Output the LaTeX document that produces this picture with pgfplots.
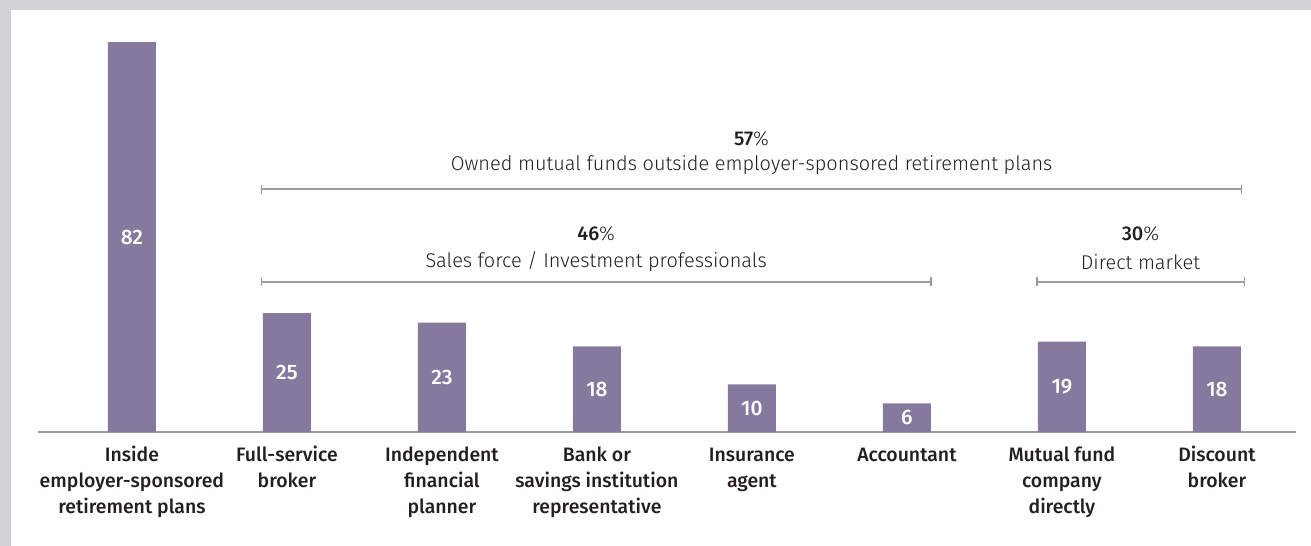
\documentclass[border=0pt]{standalone}
\usepackage{fontspec}
\setmainfont{Fira Sans Light}[BoldFont={Fira Sans Medium}]
\usepackage{pgfplots}
\pgfplotsset{compat=1.18}
\usetikzlibrary{arrows.meta}
\definecolor{barpurple}{HTML}{857A9E}
\definecolor{framegray}{HTML}{D1D2D6}
\definecolor{rulegray}{HTML}{9B9BA0}
\definecolor{textdark}{HTML}{231F20}
\newcommand{\brfont}{\fontsize{20}{24}\selectfont}

\begin{document}
\begin{tikzpicture}
\fill[framegray] (0,0) rectangle (1311bp,546bp);
\fill[white] (11bp,0) rectangle (1311bp,536bp);
\useasboundingbox (0,0) rectangle (1311bp,546bp);
\begin{axis}[
  at={(38bp,114bp)}, anchor=south west,
  scale only axis, width=1258bp, height=390bp,
  xmin=-0.606, xmax=7.51, ymin=0, ymax=82,
  axis x line=bottom, axis y line=none,
  x axis line style={rulegray, line width=1.6bp, -},
  ybar, bar width=48bp, bar shift=0pt,
  xtick=data, major tick length=0pt,
  xticklabels={{\strut Inside\\employer-sponsored\\retirement plans},
    {\strut Full-service\\broker},
    {\strut Independent\\financial\\planner},
    {\strut Bank or\\savings institution\\representative},
    {\strut Insurance\\agent},
    {\strut Accountant},
    {\strut Mutual fund\\company\\directly},
    {\strut Discount\\broker}},
  xticklabel style={font=\bfseries\fontsize{19.5}{26}\selectfont, align=center,
    text=textdark, anchor=north, yshift=-8bp},
  ytick=\empty,
  clip=false,
  /pgf/number format/assume math mode=true,
  visualization depends on={y \as \rawy},
  nodes near coords,
  every node near coord/.append style={anchor=center, text=white,
    font=\bfseries\fontsize{21}{24}\selectfont,
    shift={(axis direction cs:0,-\rawy/2)}},
]
\addplot[fill=barpurple, draw=none] coordinates {
  (0,82) (1,25) (2,23) (3,18) (4,10) (5,6) (6,19) (7,18)
};

% group brackets
\draw[rulegray, line width=1.6bp, {Bar[width=9bp]}-{Bar[width=9bp]}]
  (axis cs:0.832,51.09) -- (axis cs:7.164,51.09);
\draw[rulegray, line width=1.6bp, {Bar[width=9bp]}-{Bar[width=9bp]}]
  (axis cs:0.832,31.54) -- (axis cs:5.159,31.54);
\draw[rulegray, line width=1.6bp, {Bar[width=9bp]}-{Bar[width=9bp]}]
  (axis cs:5.835,31.54) -- (axis cs:7.184,31.54);

\node[text=textdark, font=\brfont] at (axis cs:3.998,61.7) {\textbf{57}\%};
\node[text=textdark, font=\brfont] at (axis cs:3.998,56.14)
  {Owned mutual funds outside employer-sponsored retirement plans};
\node[text=textdark, font=\brfont] at (axis cs:2.995,41.6) {\textbf{46}\%};
\node[text=textdark, font=\brfont] at (axis cs:2.995,35.74)
  {Sales force / Investment professionals};
\node[text=textdark, font=\brfont] at (axis cs:6.507,41.6) {\textbf{30}\%};
\node[text=textdark, font=\brfont] at (axis cs:6.507,35.74) {Direct market};
\end{axis}
\end{tikzpicture}
\end{document}
